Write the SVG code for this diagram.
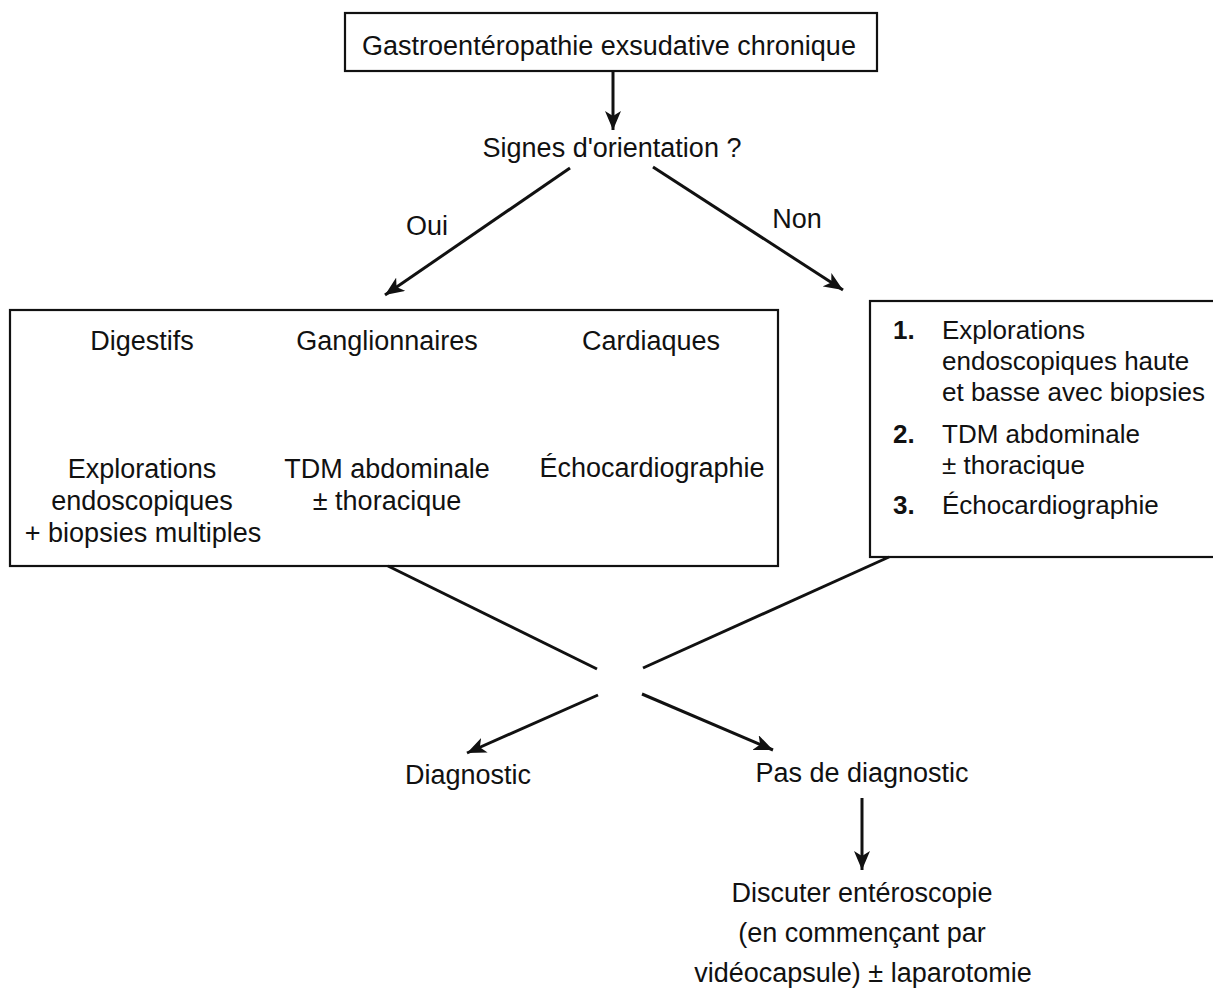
<svg xmlns="http://www.w3.org/2000/svg" width="1213" height="1001" viewBox="0 0 1213 1001">
  <style>
    .bg { fill: #ffffff; }
    .box { fill: none; stroke: #111; stroke-width: 2.2; }
    .t { font-family: "Liberation Sans", Arial, Helvetica, sans-serif; font-size: 27px; fill: #111; }
    .c { text-anchor: middle; }
    .r { font-size: 26px; }
    .n { font-weight: bold; }
    .conn line { stroke: #111; stroke-width: 3; fill: none; }
  </style>
  <defs>
    <marker id="arr" markerUnits="userSpaceOnUse" markerWidth="22" markerHeight="16" refX="19" refY="8" orient="auto">
      <path d="M0,0 L19,8 L0,16 L5,8 z" fill="#111"/>
    </marker>
  </defs>
  <rect class="bg" x="0" y="0" width="1213" height="1001"/>

  <g id="node-title">
    <rect class="box" x="345" y="13" width="532" height="58"/>
    <text class="t c" x="609" y="55">Gastroentéropathie exsudative chronique</text>
  </g>

  <g id="node-signes">
    <text class="t c" x="612" y="157">Signes d'orientation ?</text>
  </g>

  <g id="label-oui">
    <text class="t c" x="427" y="235">Oui</text>
  </g>
  <g id="label-non">
    <text class="t c" x="797" y="228">Non</text>
  </g>

  <g id="node-oui-box">
    <rect class="box" x="10" y="310" width="768" height="256"/>
    <text class="t c" x="142" y="350">Digestifs</text>
    <text class="t c" x="387" y="350">Ganglionnaires</text>
    <text class="t c" x="651" y="350">Cardiaques</text>
    <text class="t c" x="142" y="478">Explorations</text>
    <text class="t c" x="142" y="510">endoscopiques</text>
    <text class="t c" x="143" y="542">+ biopsies multiples</text>
    <text class="t c" x="387" y="478">TDM abdominale</text>
    <text class="t c" x="387" y="510">± thoracique</text>
    <text class="t c" x="652" y="477">Échocardiographie</text>
  </g>

  <g id="node-non-box">
    <rect class="box" x="870" y="301" width="346" height="256"/>
    <text class="t r n" x="893" y="339">1.</text>
    <text class="t r" x="942" y="339">Explorations</text>
    <text class="t r" x="942" y="370">endoscopiques haute</text>
    <text class="t r" x="942" y="401">et basse avec biopsies</text>
    <text class="t r n" x="893" y="443">2.</text>
    <text class="t r" x="942" y="443">TDM abdominale</text>
    <text class="t r" x="942" y="474">± thoracique</text>
    <text class="t r n" x="893" y="514">3.</text>
    <text class="t r" x="942" y="514">Échocardiographie</text>
  </g>

  <g id="node-diagnostic">
    <text class="t c" x="468" y="784">Diagnostic</text>
  </g>

  <g id="node-pas-diagnostic">
    <text class="t c" x="862" y="782">Pas de diagnostic</text>
  </g>

  <g id="node-discuter">
    <text class="t c" x="862" y="902">Discuter entéroscopie</text>
    <text class="t c" x="862" y="942">(en commençant par</text>
    <text class="t c" x="863" y="982">vidéocapsule) ± laparotomie</text>
  </g>

  <g id="connectors" class="conn">
    <line x1="613" y1="71" x2="613" y2="130" marker-end="url(#arr)"/>
    <line x1="570" y1="168" x2="385" y2="295" marker-end="url(#arr)"/>
    <line x1="653" y1="167" x2="843" y2="290" marker-end="url(#arr)"/>
    <line x1="388" y1="566" x2="597" y2="669"/>
    <line x1="889" y1="557" x2="643" y2="668"/>
    <line x1="598" y1="695" x2="467" y2="753" marker-end="url(#arr)"/>
    <line x1="642" y1="694" x2="773" y2="750" marker-end="url(#arr)"/>
    <line x1="862" y1="798" x2="862" y2="870" marker-end="url(#arr)"/>
  </g>
</svg>
